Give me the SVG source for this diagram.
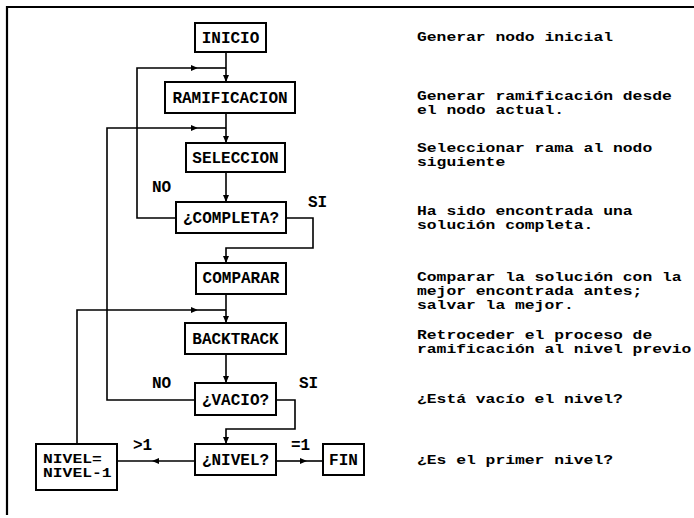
<svg xmlns="http://www.w3.org/2000/svg" width="694" height="518" viewBox="0 0 694 518">
<style>
.bx{fill:#fff;stroke:#000;stroke-width:2}
.ln{fill:none;stroke:#000;stroke-width:1.6}
.fr{fill:none;stroke:#000;stroke-width:2.2}
text{font-family:"Liberation Mono","DejaVu Sans Mono",monospace;font-weight:bold;font-size:16px;fill:#000}
.c{text-anchor:middle}
.d{font-size:12.3px}
</style>
<defs>
<marker id="a" markerUnits="userSpaceOnUse" markerWidth="7" markerHeight="6" refX="7" refY="3" orient="auto"><path d="M0,0 L7,3 L0,6 z" fill="#000"/></marker>
</defs>
<path class="fr" d="M694,7 H7 V515"/>
<g id="connectors">
<path class="ln" d="M226,52 V82" marker-end="url(#a)"/>
<path class="ln" d="M176,218 H137 V68 H198" marker-end="url(#a)"/>
<path class="ln" d="M198,68 H226"/>
<path class="ln" d="M226,113 V143" marker-end="url(#a)"/>
<path class="ln" d="M195,400 H107 V128 H198" marker-end="url(#a)"/>
<path class="ln" d="M198,128 H226"/>
<path class="ln" d="M226,172 V202" marker-end="url(#a)"/>
<path class="ln" d="M286,218 H313 V248 H226 V263" marker-end="url(#a)"/>
<path class="ln" d="M226,294 V323" marker-end="url(#a)"/>
<path class="ln" d="M77,444 V310 H198" marker-end="url(#a)"/>
<path class="ln" d="M198,310 H226"/>
<path class="ln" d="M226,354 V383" marker-end="url(#a)"/>
<path class="ln" d="M276,400 H295 V429 H226 V444" marker-end="url(#a)"/>
<path class="ln" d="M195,461 H152" marker-end="url(#a)"/>
<path class="ln" d="M152,461 H117"/>
<path class="ln" d="M276,461 H307" marker-end="url(#a)"/>
<path class="ln" d="M307,461 H323"/>
<text x="152" y="192">NO</text>
<text x="308" y="207">SI</text>
<text x="152" y="388">NO</text>
<text x="299" y="388">SI</text>
<text x="133" y="450">&gt;1</text>
<text x="291" y="450">=1</text>
</g>
<g id="inicio"><rect class="bx" x="195" y="23" width="71" height="29"/><text class="c" x="230.5" y="43">INICIO</text></g>
<g id="ramificacion"><rect class="bx" x="165" y="82" width="130" height="31"/><text class="c" x="230" y="103">RAMIFICACION</text></g>
<g id="seleccion"><rect class="bx" x="186" y="143" width="99" height="29"/><text class="c" x="235.5" y="163">SELECCION</text></g>
<g id="completa"><rect class="bx" x="176" y="202" width="110" height="31"/><text class="c" x="231" y="223">¿COMPLETA?</text></g>
<g id="comparar"><rect class="bx" x="196" y="263" width="90" height="31"/><text class="c" x="241" y="283">COMPARAR</text></g>
<g id="backtrack"><rect class="bx" x="185" y="323" width="101" height="31"/><text class="c" x="235.5" y="344">BACKTRACK</text></g>
<g id="vacio"><rect class="bx" x="195" y="383" width="81" height="32"/><text class="c" x="235.5" y="405">¿VACIO?</text></g>
<g id="nivel"><rect class="bx" x="195" y="444" width="81" height="31"/><text class="c" x="235.5" y="465">¿NIVEL?</text></g>
<g id="nivelmenos"><rect class="bx" x="36" y="444" width="81" height="46"/><text class="d" x="43" y="463" textLength="58.8" lengthAdjust="spacingAndGlyphs">NIVEL=</text><text class="d" x="43" y="477" textLength="68.6" lengthAdjust="spacingAndGlyphs">NIVEL-1</text></g>
<g id="fin"><rect class="bx" x="323" y="444" width="41" height="31"/><text class="c" x="343.5" y="465">FIN</text></g>
<g id="descripciones">
<text class="d" x="417" y="41" textLength="196" lengthAdjust="spacingAndGlyphs">Generar nodo inicial</text>
<text class="d" x="417" y="100" textLength="254.8" lengthAdjust="spacingAndGlyphs">Generar ramificación desde</text>
<text class="d" x="417" y="114" textLength="147" lengthAdjust="spacingAndGlyphs">el nodo actual.</text>
<text class="d" x="417" y="152" textLength="235.2" lengthAdjust="spacingAndGlyphs">Seleccionar rama al nodo</text>
<text class="d" x="417" y="166" textLength="88.2" lengthAdjust="spacingAndGlyphs">siguiente</text>
<text class="d" x="417" y="215" textLength="215.6" lengthAdjust="spacingAndGlyphs">Ha sido encontrada una</text>
<text class="d" x="417" y="229" textLength="176.4" lengthAdjust="spacingAndGlyphs">solución completa.</text>
<text class="d" x="417" y="281" textLength="264.6" lengthAdjust="spacingAndGlyphs">Comparar la solución con la</text>
<text class="d" x="417" y="295" textLength="225.4" lengthAdjust="spacingAndGlyphs">mejor encontrada antes;</text>
<text class="d" x="417" y="309" textLength="156.8" lengthAdjust="spacingAndGlyphs">salvar la mejor.</text>
<text class="d" x="417" y="339" textLength="235.2" lengthAdjust="spacingAndGlyphs">Retroceder el proceso de</text>
<text class="d" x="417" y="353" textLength="274.4" lengthAdjust="spacingAndGlyphs">ramificación al nivel previo</text>
<text class="d" x="417" y="403" textLength="205.8" lengthAdjust="spacingAndGlyphs">¿Está vacío el nivel?</text>
<text class="d" x="417" y="464" textLength="196" lengthAdjust="spacingAndGlyphs">¿Es el primer nivel?</text>
</g>
</svg>
